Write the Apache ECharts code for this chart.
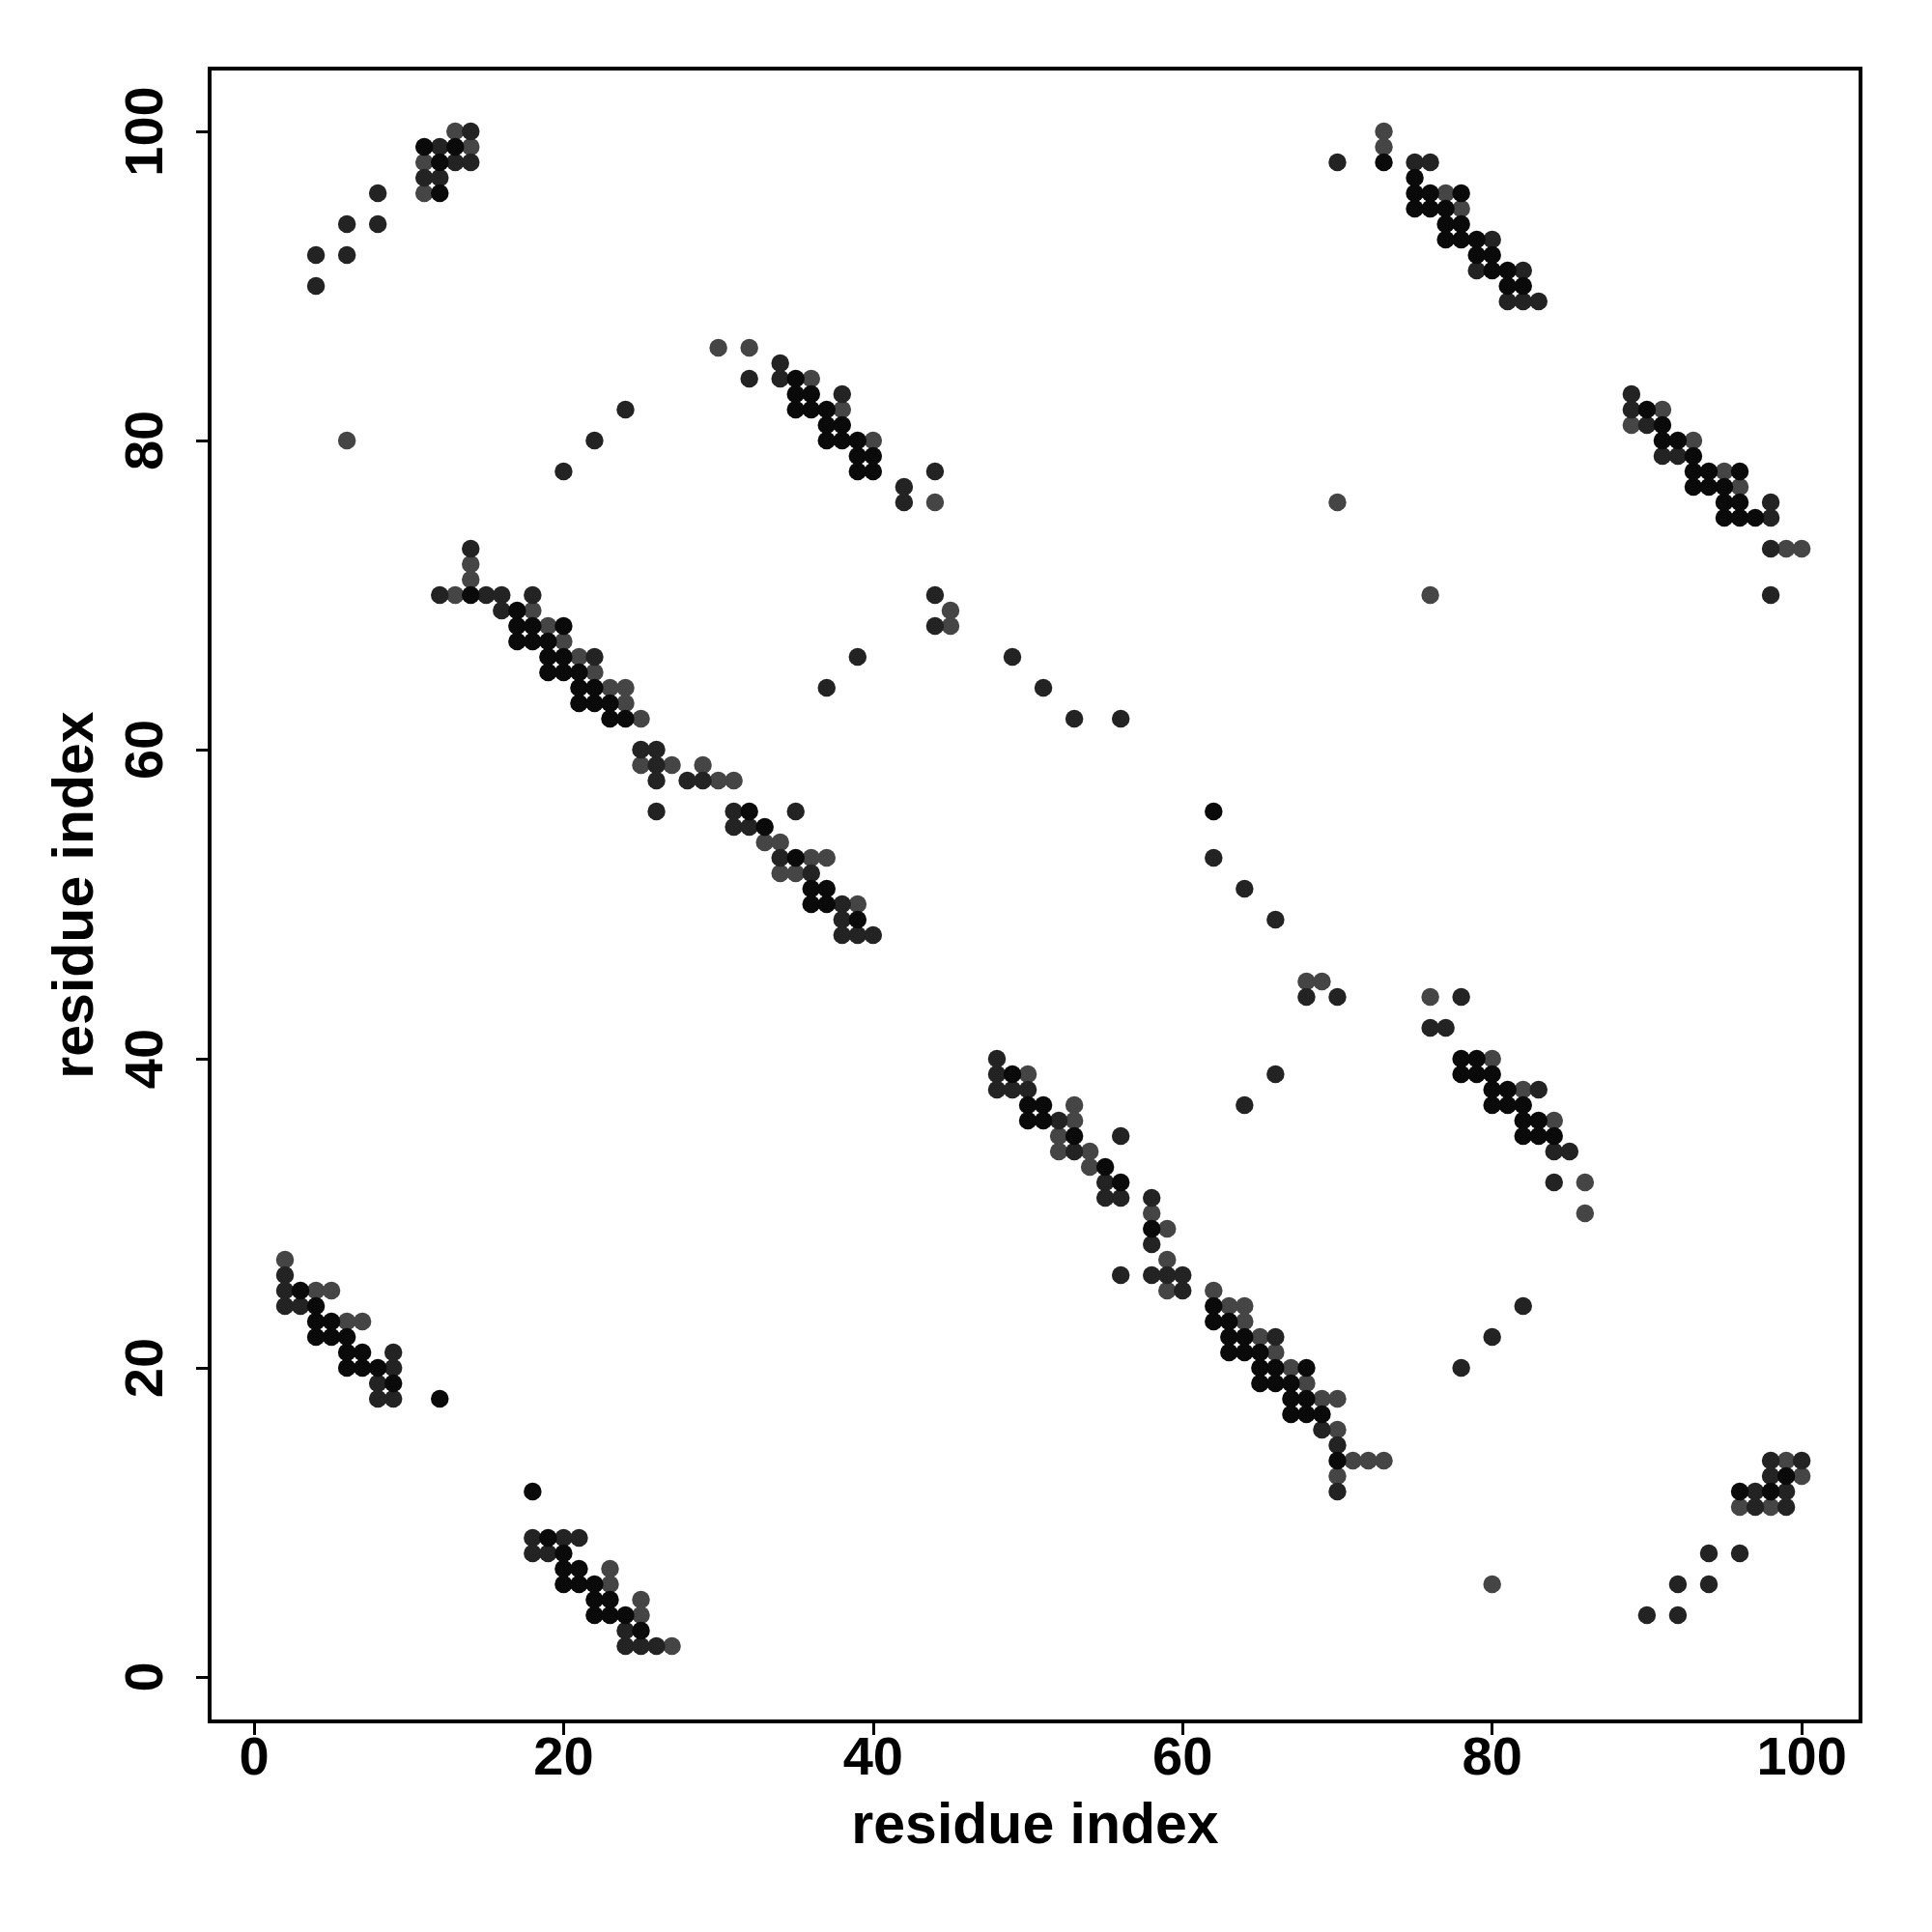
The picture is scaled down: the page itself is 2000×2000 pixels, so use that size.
<!DOCTYPE html>
<html>
<head>
<meta charset="utf-8">
<script src="https://cdn.jsdelivr.net/npm/echarts@6/dist/echarts.min.js"></script>
<style>
html,body{margin:0;padding:0;background:#fff;}
#chart{width:2000px;height:2000px;}
</style>
</head>
<body>
<div id="chart"></div>
<script>
// tick labels
const xTicks = [0, 20, 40, 60, 80, 100];
const yTicks = [0, 20, 40, 60, 80, 100];

// contact points [x, y] grouped by shade
const blackPts = [
[11,99],[13,99],[12,98],[12,96],
[14,70],[17,69],[17,68],[18,68],[20,68],[17,67],[18,67],[19,67],[19,66],[20,66],[19,65],[20,65],[21,65],[21,64],[22,64],[21,63],[22,63],[23,63],[23,62],[24,62],
[32,56],[33,55],[35,53],[36,51],[37,51],[36,50],[37,50],[39,49],
[35,84],[35,83],[36,83],[35,82],[36,82],[37,82],[37,81],[38,81],[37,80],[38,80],[39,80],[39,79],[40,79],[39,78],[40,78],
[73,98],[75,97],[75,96],[76,96],[78,96],[75,95],[76,95],[77,95],[77,94],[78,94],[77,93],[78,93],[79,93],[79,92],[80,92],[80,91],[81,91],[81,90],[82,90],
[90,82],[91,81],[91,80],[92,80],[93,79],[93,78],[94,78],[96,78],[93,77],[94,77],[95,77],[95,76],[96,76],[95,75],[96,75],[97,75],
[49,39],[50,37],[51,37],[50,36],[51,36],[53,35],[55,33],[56,32],[58,29],
[62,24],[62,23],[63,23],[63,22],[64,22],[63,21],[64,21],[65,21],[65,20],[66,20],[68,20],[65,19],[66,19],[67,19],[67,18],[68,18],[67,17],[68,17],[69,17],[70,14],
[78,40],[79,40],[78,39],[79,39],[80,39],[80,38],[81,38],[80,37],[81,37],[82,37],[82,36],[83,36],[82,35],[83,35],[84,35],
[3,25],[4,24],[4,23],[5,23],[4,22],[5,22],[6,22],[6,21],[7,21],[6,20],[7,20],[8,20],[9,19],[12,18],
[18,12],[19,9],[20,8],[20,7],[21,7],[20,6],[21,6],[22,6],[22,5],[23,5],[22,4],[23,4],[24,4],[25,3],
[99,13],[96,12],[98,12],[62,56]
];
const darkPts = [
[4,90],[4,92],[6,92],[6,94],[8,94],[8,96],[14,100],[12,99],[13,98],[14,98],[11,97],[12,97],
[14,73],[12,70],[15,70],[16,70],[18,70],[16,69],[22,66],[25,60],[26,60],[26,59],[26,58],[28,58],[29,58],
[26,56],[31,56],[35,56],[31,55],[32,55],[34,53],[36,52],[38,50],[38,49],[38,48],[39,48],[40,48],
[34,85],[32,84],[34,84],[38,83],[44,78],[42,77],[42,76],[44,70],[44,68],
[70,98],[75,98],[76,98],[80,93],[79,91],[82,91],[81,89],[82,89],[83,89],
[89,83],[89,82],[90,81],[91,79],[92,79],[98,76],[98,75],[98,73],[98,70],
[48,40],[48,39],[48,38],[49,38],[50,38],[52,36],[56,35],[53,34],[55,32],[55,31],[56,31],[58,31],[58,28],[56,26],[58,26],[59,26],[60,26],[60,25],
[66,22],[69,16],[70,15],[70,12],
[78,44],[76,42],[77,42],[83,38],[84,34],[85,34],[84,32],
[2,26],[2,25],[2,24],[3,24],[9,21],[9,20],[8,19],[8,18],[9,18],
[18,9],[20,9],[21,9],[18,8],[19,8],[24,3],[24,2],[25,2],[26,2],
[98,14],[100,14],[98,13],[97,12],[99,12],[97,11],[99,11],[94,8],[96,8],[92,6],[94,6],[90,4],[92,4],
[20,78],[22,80],[24,82],[37,64],[39,66],[49,66],[51,64],[53,62],[56,62],[62,53],[64,51],[66,49],[68,44],[70,44],[64,37],[66,39],[78,20],[80,22],[82,24]
];
const grayPts = [
[13,100],[14,99],[11,98],[11,96],
[14,72],[14,71],[13,70],[18,69],[19,68],[20,67],[21,66],[22,65],[23,64],[24,64],[24,63],[25,62],[25,59],[27,59],[29,59],[30,58],[31,58],
[33,54],[34,54],[36,53],[37,53],[34,52],[35,52],[39,50],
[30,86],[32,86],[36,84],[38,82],[40,80],[44,76],[45,69],[45,68],
[73,100],[73,99],[77,96],[78,95],
[91,82],[89,81],[93,80],[95,78],[96,77],[99,73],[100,73],
[50,39],[53,37],[53,36],[52,35],[52,34],[54,34],[54,33],[58,30],[59,29],[59,27],[59,25],
[62,25],[63,24],[64,24],[64,23],[65,22],[66,21],[67,20],[68,19],[69,18],[70,18],[70,16],[71,14],[72,14],[73,14],[70,13],
[76,44],[80,40],[82,38],[84,36],[86,32],[86,30],
[2,27],[4,25],[5,25],[6,23],[7,23],
[23,7],[23,6],[25,5],[25,4],[27,2],
[99,14],[100,13],[96,11],[98,11],
[6,80],[68,45],[69,45],[70,76],[76,70],[80,6]
];

const FONT = '"Liberation Sans", Arial, Helvetica, sans-serif';
const chart = echarts.init(document.getElementById('chart'), null, {renderer: 'canvas'});

function mkSeries(data, color) {
  return {
    type: 'scatter',
    data: data,
    symbol: 'circle',
    symbolSize: 18.5,
    itemStyle: {color: color, opacity: 1},
    emphasis: {disabled: true},
    animation: false
  };
}

const axisCommon = {
  type: 'value',
  splitLine: {show: false},
  axisLine: {show: false, onZero: false},
  nameLocation: 'middle',
  nameTextStyle: {fontFamily: FONT, fontWeight: 'bold', fontSize: 59, color: '#000'}
};

chart.setOption({
  animation: false,
  backgroundColor: '#ffffff',
  grid: {left: 217, top: 71, width: 1709, height: 1711, show: true, borderColor: '#000', borderWidth: 4, backgroundColor: 'transparent'},
  xAxis: Object.assign({}, axisCommon, {
    min: -2.87, max: 103.8,
    name: 'residue index', nameGap: 80,
    axisTick: {show: true, inside: false, length: 14, lineStyle: {color: '#000', width: 3}, customValues: xTicks},
    axisLabel: {show: true, margin: 12, fontFamily: FONT, fontWeight: 'bold', fontSize: 56, color: '#000', customValues: xTicks}
  }),
  yAxis: Object.assign({}, axisCommon, {
    min: -2.875, max: 104.06,
    name: 'residue index', nameGap: 108, nameRotate: 90,
    axisTick: {show: true, inside: false, length: 14, lineStyle: {color: '#000', width: 3}, customValues: yTicks},
    axisLabel: {show: true, margin: 36, rotate: 90, fontFamily: FONT, fontWeight: 'bold', fontSize: 56, color: '#000', customValues: yTicks}
  }),
  series: [mkSeries(grayPts, '#454545'), mkSeries(darkPts, '#232323'), mkSeries(blackPts, '#0a0a0a')]
});
</script>
</body>
</html>
